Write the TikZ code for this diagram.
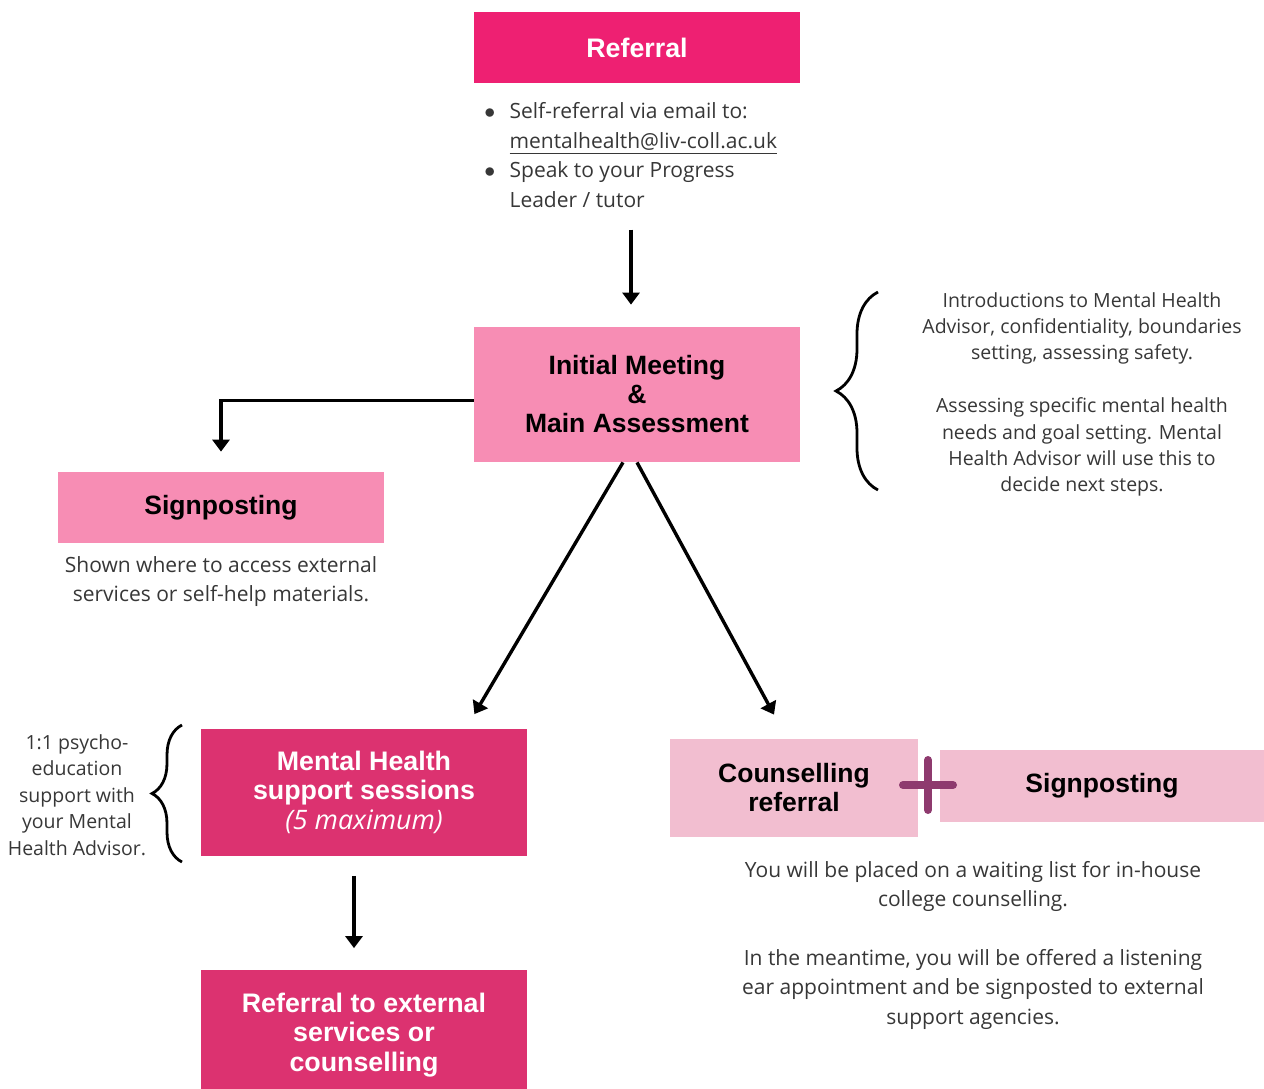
\documentclass[tikz,border=0pt]{standalone}
\usepackage{fontspec}
\setmainfont{Open Sans}
\newfontfamily\headfont{Liberation Sans}
\usepackage{xcolor}
\definecolor{hotpink}{RGB}{238,32,114}
\definecolor{midpink}{RGB}{247,141,180}
\definecolor{deeppink}{RGB}{220,50,112}
\definecolor{palepink}{RGB}{242,190,208}
\definecolor{plumplus}{RGB}{142,58,110}
\definecolor{textgray}{RGB}{55,55,55}
\usepackage{tikz}
\usetikzlibrary{arrows.meta}
\usetikzlibrary{decorations.pathreplacing}
\newcommand{\widthbox}{163pt}
\newcommand{\widthcouns}{124pt}
\newcommand{\dotitem}{\makebox[1.2em][l]{$\bullet$}}
\tikzset{
    box/.style={rectangle, minimum width=\widthbox, align=center, inner sep=0pt,
        font=\headfont\bfseries\fontsize{13.4pt}{14.75pt}\selectfont},
    whitebox/.style={box, text=white},
    blackbox/.style={box, text=black, font=\headfont\bfseries\fontsize{13.25pt}{14.5pt}\selectfont},
    note/.style={align=center, inner sep=0pt, text=textgray,
        font=\fontsize{10.5pt}{14.7pt}\selectfont},
    smallnote/.style={note, font=\fontsize{9.75pt}{13.2pt}\selectfont},
    arrow/.style={-{Triangle[length=6pt,width=8.5pt]}, line width=1.7pt, black},
    curly/.style={decorate, decoration={brace, amplitude=#1}, line width=1.4pt, black}
}

\begin{document}
\begin{tikzpicture}[x=0.5pt, y=-0.5pt]
    \useasboundingbox (0,0) rectangle (1264,1088);

    % top of the flow
    \node[whitebox, fill=hotpink, minimum height=35.5pt] (referral) at (637,47.5) {Referral};
    \node[note, anchor=west, align=left] (bullets) at (484,155)
        {\dotitem Self-referral via email to:\\
         \hspace*{1.2em}\underline{mentalhealth@liv-coll.ac.uk}\\
         \dotitem Speak to your Progress\\
         \hspace*{1.2em}Leader / tutor};

    \node[blackbox, fill=midpink, minimum height=67.5pt] (initial) at (637,394.5)
        {Initial Meeting\\\&\\Main Assessment};
    \node[smallnote] (intro) at (1082,394.5)
        {Introductions to Mental Health\\
         Advisor, confidentiality, boundaries\\
         setting, assessing safety.\\[13.2pt]
         Assessing specific mental health\\
         needs and goal setting. Mental\\
         Health Advisor will use this to\\
         decide next steps.};
    \coordinate (brace-r-low) at (878,490);
    \coordinate (brace-r-high) at (878,292);
    \draw[curly=21pt] (brace-r-low) -- (brace-r-high);

    % left branch
    \node[blackbox, fill=midpink, minimum height=35.5pt] (signpost-l) at (221,507.5) {Signposting};
    \node[note] (signpost-l-text) at (221,581.5)
        {Shown where to access external\\services or self-help materials.};

    % middle branch
    \node[whitebox, fill=deeppink, minimum height=63.5pt] (support) at (364,792)
        {Mental Health\\support sessions\\{\normalfont\itshape (5 maximum)}};
    \node[smallnote] (support-text) at (77,795)
        {1:1 psycho-\\education\\support with\\your Mental\\Health Advisor.};
    \coordinate (brace-l-low) at (182,862);
    \coordinate (brace-l-high) at (182,725);
    \draw[curly=15pt] (brace-l-low) -- (brace-l-high);

    \node[whitebox, fill=deeppink, minimum height=65.5pt] (external) at (364,1035)
        {Referral to external\\services or\\counselling};

    % right branch
    \node[blackbox, fill=palepink, minimum width=\widthcouns, minimum height=49pt] (counselling) at (794,788)
        {Counselling\\referral};
    \node[blackbox, fill=palepink, minimum width=162pt, minimum height=36pt] (signpost-r) at (1102,786)
        {Signposting};
    \coordinate (plus) at (928,785);
    \draw[plumplus, line width=4pt, line cap=round] (plus) ++(-25,0) -- ++(50,0) (plus) ++(0,-25) -- ++(0,50);
    \node[note] (waiting) at (973,945)
        {You will be placed on a waiting list for in-house\\
         college counselling.\\[14.7pt]
         In the meantime, you will be offered a listening\\
         ear appointment and be signposted to external\\
         support agencies.};

    % connectors
    \coordinate (col) at (631,0);
    \draw[arrow, shorten <=11pt, shorten >=11pt] (bullets.south -| col) -- (initial.north -| col);
    \draw[arrow, shorten >=10pt] ([yshift=-3pt]initial.west) -| (signpost-l.north);
    \draw[arrow] ([xshift=-7pt]initial.south) -- ([xshift=-26.5pt,yshift=7pt]support.north east);
    \draw[arrow] (initial.south) -- ([xshift=-10pt,yshift=12pt]counselling.north);
    \draw[arrow, shorten <=10pt, shorten >=10.5pt] ([xshift=-5pt]support.south) -- ([xshift=-5pt]external.north);
\end{tikzpicture}
\end{document}
